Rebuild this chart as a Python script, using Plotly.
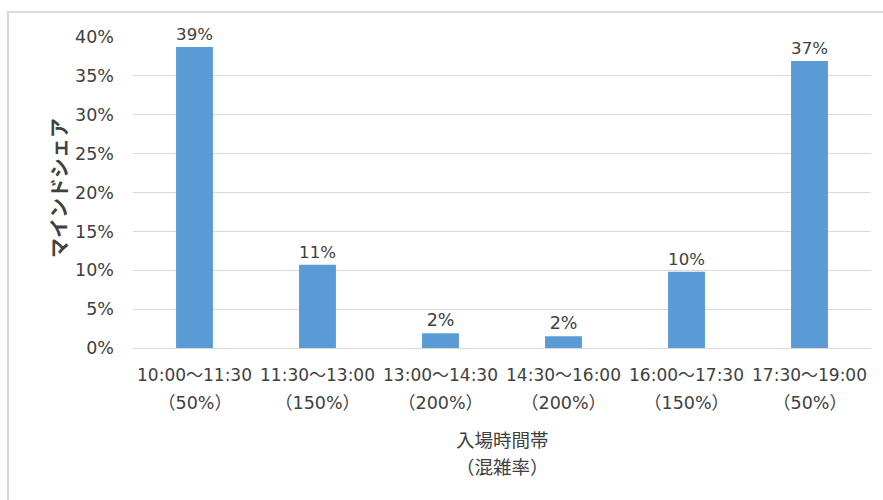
import plotly.graph_objects as go

time_slots = ["10:00～11:30", "11:30～13:00", "13:00～14:30", "14:30～16:00", "16:00～17:30", "17:30～19:00"]
congestion = ["（50%）", "（150%）", "（200%）", "（200%）", "（150%）", "（50%）"]
share = [0.387, 0.107, 0.019, 0.015, 0.098, 0.369]
share_labels = ["39%", "11%", "2%", "2%", "10%", "37%"]
y_ticks = [0, 0.05, 0.10, 0.15, 0.20, 0.25, 0.30, 0.35, 0.40]
y_tick_text = ["0%", "5%", "10%", "15%", "20%", "25%", "30%", "35%", "40%"]
x_title_lines = ["入場時間帯", "（混雑率）"]
y_title = "マインドシェア"

FONT = "DejaVu Sans, Noto Sans CJK JP"
CJK = "Noto Sans CJK JP"
TXT = "#404040"
GRID = "#d9d9d9"

W, H = 883, 500
L, R, T, B = 133, 12, 37, 152
pw, ph = W - L - R, H - T - B

def px_x(p):
    return (p - L) / pw

def px_y(p):
    return (H - B - p) / ph

fig = go.Figure()
fig.add_trace(go.Bar(
    x=time_slots, y=share, width=0.3,
    marker=dict(color="#5b9bd5", line=dict(width=0)),
    text=share_labels, textposition="outside", cliponaxis=False,
    textfont=dict(family=FONT, size=17.5, color=TXT),
    hoverinfo="skip",
))

annotations = []
for slot, c in zip(time_slots, congestion):
    annotations.append(dict(x=slot, xref="x", y=px_y(403), yref="paper",
                            text=c, showarrow=False, yanchor="middle",
                            font=dict(family=FONT, size=17.5, color=TXT)))
for i, line in enumerate(x_title_lines):
    annotations.append(dict(x=0.5, xref="paper", y=px_y(439 + 27 * i), yref="paper",
                            text=line, showarrow=False, yanchor="middle",
                            font=dict(family=CJK, size=18.5, color=TXT)))
annotations.append(dict(x=px_x(58), xref="paper", y=px_y(188), yref="paper",
                        text="<b>" + y_title + "</b>", showarrow=False, textangle=-90,
                        xanchor="center", yanchor="middle",
                        font=dict(family=CJK, size=20, color=TXT)))

fig.update_layout(
    width=W, height=H,
    margin=dict(l=L, r=R, t=T, b=B, autoexpand=False),
    paper_bgcolor="white", plot_bgcolor="white",
    showlegend=False,
    bargap=0.7,
    annotations=annotations,
    shapes=[dict(type="rect", xref="paper", yref="paper",
                 x0=px_x(8), x1=px_x(900), y0=px_y(520), y1=px_y(12),
                 line=dict(color=GRID, width=2), fillcolor="rgba(0,0,0,0)", layer="below")],
    xaxis=dict(showgrid=False, showline=True, linecolor=GRID, linewidth=1,
               ticks="", tickangle=0, tickfont=dict(family=FONT, size=17, color=TXT),
               ticklabelstandoff=12, fixedrange=True),
    yaxis=dict(range=[0, 0.40], tickvals=y_ticks, ticktext=y_tick_text,
               showgrid=True, gridcolor=GRID, gridwidth=1, zeroline=False,
               showline=False, ticks="", ticklabelstandoff=18,
               tickfont=dict(family=FONT, size=17.5, color=TXT), fixedrange=True),
)

fig.write_html("out.html")
